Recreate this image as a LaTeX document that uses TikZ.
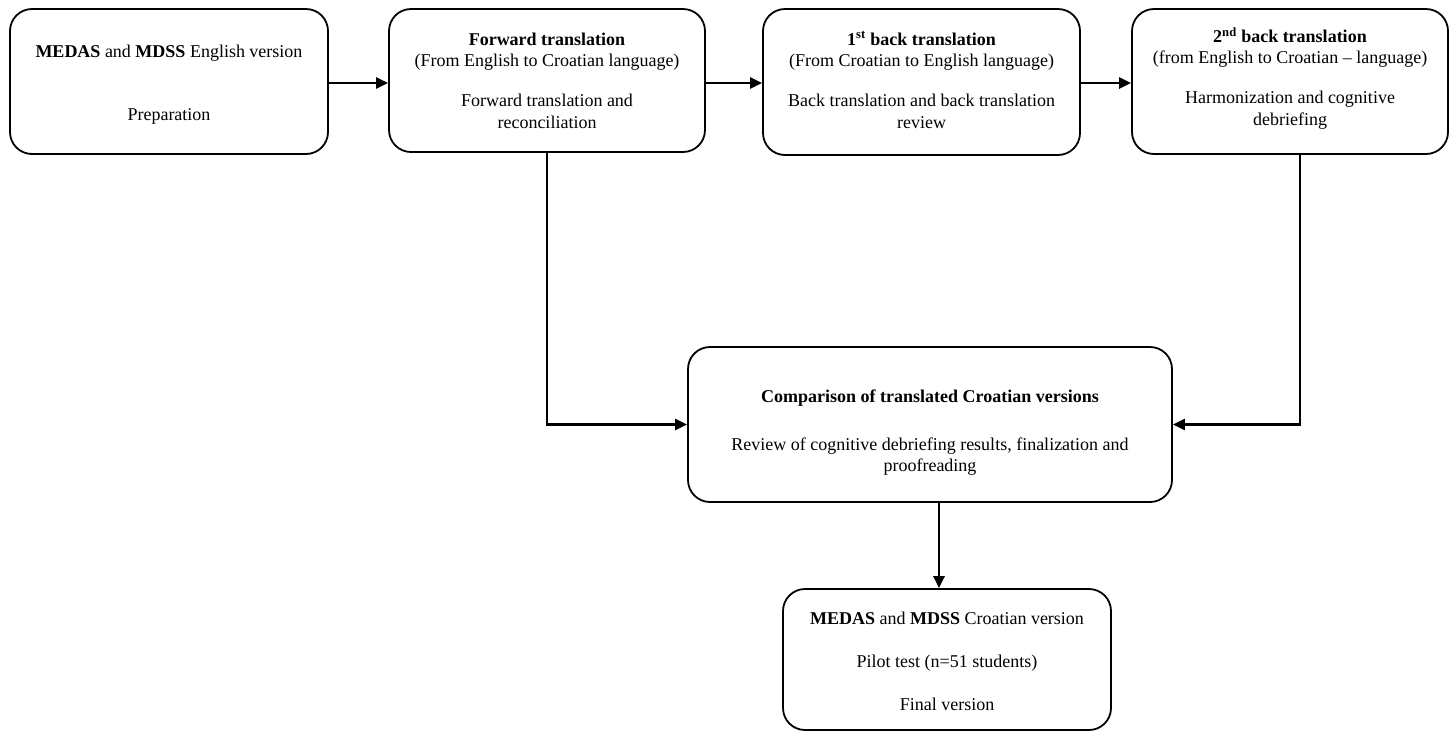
\documentclass[tikz,border=0pt]{standalone}
\usepackage{fontspec}
\setmainfont{Liberation Serif}
\usetikzlibrary{arrows.meta}
\begin{document}
\begin{tikzpicture}[x=1pt,y=-1pt,
  box/.style={draw, line width=1.8pt, rounded corners=22pt, inner sep=0pt},
  txt/.style={align=center, font=\fontsize{18}{21.5}\selectfont, inner sep=0pt},
  arr/.style={line width=2.8pt, -{Triangle[length=12pt,width=11pt]}}]
\useasboundingbox (0,0) rectangle (1451,732);
% boxes
\node[box, minimum width=318pt, minimum height=145pt] (A) at (169,81.5) {};
\node[box, minimum width=316pt, minimum height=143pt] (B) at (547,80.5) {};
\node[box, minimum width=317pt, minimum height=146pt] (C) at (921.5,82) {};
\node[box, minimum width=316pt, minimum height=145pt] (D) at (1290,81.5) {};
\node[box, minimum width=484pt, minimum height=155pt] (E) at (930,424.5) {};
\node[box, minimum width=328pt, minimum height=141pt] (F) at (947,659.5) {};
% texts
\node[txt] (At) at (169,84.3) {\textbf{MEDAS} and \textbf{MDSS} English version\\[41.5pt]Preparation};
\node[txt] (Bt) at (547,80.4) {\textbf{Forward translation}\\(From English to Croatian language)\\[18.5pt]Forward translation and\\reconciliation};
\node[txt] (Ct) at (921.5,80) {\textbf{1\textsuperscript{st} back translation}\\(From Croatian to English language)\\[18.5pt]Back translation and back translation\\review};
\node[txt] (Dt) at (1290,78.3) {\textbf{2\textsuperscript{nd} back translation}\\(from English to Croatian – language)\\[18.5pt]Harmonization and cognitive\\debriefing};
\node[txt] (Et) at (930,432.8) {\textbf{Comparison of translated Croatian versions}\\[26.5pt]Review of cognitive debriefing results, finalization and\\proofreading};
\node[txt] (Ft) at (947,661.4) {\textbf{MEDAS} and \textbf{MDSS} Croatian version\\[21.5pt]Pilot test (n=51 students)\\[21.5pt]Final version};
% connectors
\coordinate (Ae) at ([yshift=-1.5pt]A.east);
\coordinate (Be) at ([yshift=-2.5pt]B.east);
\coordinate (Ce) at ([yshift=-1pt]C.east);
\draw[arr] (Ae) -- (Ae -| B.west);
\draw[arr] (Be) -- (Be -| C.west);
\draw[arr] (Ce) -- (Ce -| D.west);
\draw[arr] (B.south) |- (E.west);
\coordinate (Dd) at ([xshift=10pt]D.south);
\draw[arr] (Dd) |- (E.east);
\coordinate (Es) at ([xshift=9pt]E.south);
\draw[arr] (Es) -- (Es |- F.north);
\end{tikzpicture}
\end{document}
